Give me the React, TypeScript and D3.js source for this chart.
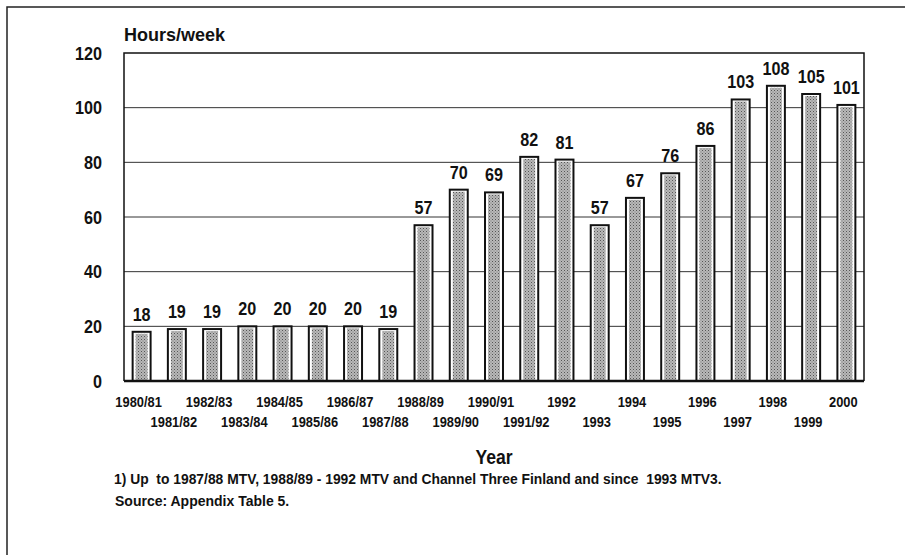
import { useEffect, useRef } from "react";
import * as d3 from "d3";

const WIDTH = 905;
const HEIGHT = 555;
const MARGIN = { top: 53, right: 41, bottom: 174, left: 124 };
const FONT = "'Liberation Sans', Arial, sans-serif";

const years = [
  "1980/81", "1981/82", "1982/83", "1983/84", "1984/85", "1985/86", "1986/87",
  "1987/88", "1988/89", "1989/90", "1990/91", "1991/92", "1992", "1993",
  "1994", "1995", "1996", "1997", "1998", "1999", "2000"
];
const hours = [18, 19, 19, 20, 20, 20, 20, 19, 57, 70, 69, 82, 81, 57, 67, 76, 86, 103, 108, 105, 101];
const yTicks = [0, 20, 40, 60, 80, 100, 120];

const FOOTNOTE = "1) Up  to 1987/88 MTV, 1988/89 - 1992 MTV and Channel Three Finland and since  1993 MTV3.";
const SOURCE = "Source: Appendix Table 5.";

// condensed look: squeeze the text horizontally around its anchor
function label(sel, x, y, size, squeeze, anchor = "start") {
  return sel
    .append("text")
    .attr("transform", `translate(${x},${y}) scale(${squeeze},1)`)
    .attr("text-anchor", anchor)
    .attr("font-family", FONT)
    .attr("font-weight", 700)
    .attr("font-size", size)
    .attr("fill", "#111");
}

export default function App() {
  const svgRef = useRef<SVGSVGElement | null>(null);

  useEffect(() => {
    const svg = d3.select(svgRef.current);
    svg.selectAll("*").remove();

    const innerWidth = WIDTH - MARGIN.left - MARGIN.right;
    const innerHeight = HEIGHT - MARGIN.top - MARGIN.bottom;
    const plotRight = MARGIN.left + innerWidth;
    const plotBottom = MARGIN.top + innerHeight;

    const x = d3.scaleBand().domain(years).range([MARGIN.left, plotRight]).paddingInner(0.49).paddingOuter(0.245);
    const y = d3.scaleLinear().domain([0, 120]).range([plotBottom, MARGIN.top]);

    svg.attr("width", WIDTH).attr("height", HEIGHT).attr("viewBox", `0 0 ${WIDTH} ${HEIGHT}`);

    // stipple pattern for the bars
    const pattern = svg
      .append("defs")
      .append("pattern")
      .attr("id", "stipple")
      .attr("width", 3)
      .attr("height", 3)
      .attr("patternUnits", "userSpaceOnUse");
    pattern.append("rect").attr("width", 3).attr("height", 3).attr("fill", "#b8b8b8");
    pattern.append("rect").attr("width", 1).attr("height", 1).attr("fill", "#555");
    pattern.append("rect").attr("x", 1.5).attr("y", 1.5).attr("width", 1).attr("height", 1).attr("fill", "#777");

    svg.append("rect").attr("width", WIDTH).attr("height", HEIGHT).attr("fill", "#ffffff");

    // outer frame of the figure (runs off the right and bottom edges)
    svg
      .append("rect")
      .attr("x", 7)
      .attr("y", 7)
      .attr("width", WIDTH + 20)
      .attr("height", HEIGHT + 20)
      .attr("fill", "none")
      .attr("stroke", "#222")
      .attr("stroke-width", 1.5);

    const plot = svg.append("g");

    plot
      .append("g")
      .selectAll("line")
      .data(yTicks.filter((t) => t > 0 && t < 120))
      .join("line")
      .attr("x1", MARGIN.left)
      .attr("x2", plotRight)
      .attr("y1", (d) => y(d))
      .attr("y2", (d) => y(d))
      .attr("stroke", "#333")
      .attr("stroke-width", 1);

    plot
      .append("path")
      .attr("d", `M${MARGIN.left},${plotBottom}V${MARGIN.top}H${plotRight}V${plotBottom}`)
      .attr("fill", "none")
      .attr("stroke", "#111")
      .attr("stroke-width", 1.5);

    const bars = plot.append("g").selectAll("g").data(years).join("g");
    bars
      .append("rect")
      .attr("x", (d) => x(d)!)
      .attr("y", (d, i) => y(hours[i]))
      .attr("width", x.bandwidth())
      .attr("height", (d, i) => plotBottom - y(hours[i]))
      .attr("fill", "#ffffff")
      .attr("stroke", "#111")
      .attr("stroke-width", 2);
    bars
      .append("rect")
      .attr("x", (d) => x(d)! + 3)
      .attr("y", (d, i) => y(hours[i]) + 2)
      .attr("width", x.bandwidth() - 6)
      .attr("height", (d, i) => Math.max(0, plotBottom - y(hours[i]) - 3))
      .attr("fill", "url(#stipple)");

    years.forEach((d, i) => {
      label(plot, x(d)! + x.bandwidth() / 2, y(hours[i]) - 11, 19, 0.85, "middle").text(hours[i]);
    });

    plot
      .append("line")
      .attr("x1", MARGIN.left)
      .attr("x2", plotRight)
      .attr("y1", plotBottom)
      .attr("y2", plotBottom)
      .attr("stroke", "#111")
      .attr("stroke-width", 2.5);

    // y tick labels
    yTicks.forEach((t) => {
      label(plot, 102, y(t) + 6.5, 18, 0.9, "end").text(t);
    });

    // x tick labels, staggered in two rows
    years.forEach((d, i) => {
      label(plot, x(d)! + x.bandwidth() / 2 - 3, i % 2 === 0 ? 407 : 427, 14, 0.92, "middle").text(d);
    });

    label(svg, MARGIN.left, 41, 18, 1, "start").text("Hours/week");
    label(svg, (MARGIN.left + plotRight) / 2, 464, 20, 0.88, "middle").text("Year");
    label(svg, 114, 484, 14, 0.99, "start").attr("xml:space", "preserve").text(FOOTNOTE);
    label(svg, 115, 506, 14, 1, "start").text(SOURCE);
  }, []);

  return (
    <div style={{ position: "absolute", left: 0, top: 0 }}>
      <svg ref={svgRef} role="img" aria-label="Hours per week bar chart" style={{ display: "block" }} />
    </div>
  );
}
